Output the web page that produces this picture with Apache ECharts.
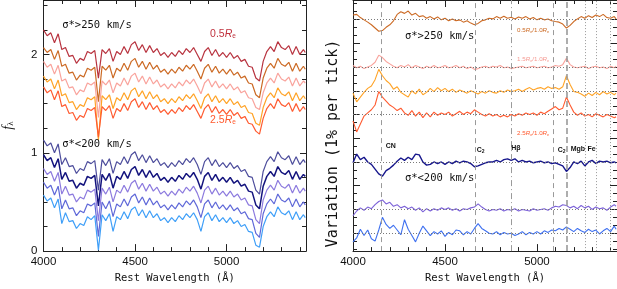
<!DOCTYPE html>
<html><head><meta charset="utf-8">
<script src="https://cdn.jsdelivr.net/npm/echarts@6/dist/echarts.min.js"></script>
<style>html,body{margin:0;padding:0;background:#fff}#c{width:617px;height:289px}</style>
</head><body><div id="c"></div>
<script>
// wavelength grid (Angstrom)
const wavelengths = [];
for (let w = 4000; w <= 5420; w += 20) wavelengths.push(w);
wavelengths.push(5430);

// ---- left panel: f_lambda, sigma*>250 km/s (0.5Re ... 2.5Re)
const hi05 = [2.25,2.19,2.22,2.12,2.21,2.05,2.07,1.98,1.99,1.91,
1.96,1.94,2.03,2.01,2.04,1.76,2.05,2.01,2.06,1.93,
2.03,2.00,2.08,2.01,2.10,2.13,2.04,2.10,2.02,2.09,
2.02,2.06,1.99,2.02,1.97,2.02,1.98,2.04,2.00,2.06,
2.02,2.07,2.00,1.93,2.03,2.07,1.99,2.05,1.98,2.02,
1.97,2.02,1.96,1.99,1.93,1.95,1.88,1.87,1.76,1.73,
1.93,2.03,2.08,2.03,2.13,2.07,2.05,2.09,2.00,2.08,
2.00,2.05,2.02];
const hi10 = [2.07,2.02,2.05,1.95,2.04,1.88,1.90,1.81,1.82,1.74,
1.79,1.77,1.86,1.84,1.87,1.52,1.88,1.84,1.89,1.76,
1.86,1.83,1.91,1.84,1.93,1.96,1.87,1.93,1.85,1.92,
1.85,1.89,1.82,1.85,1.80,1.85,1.81,1.87,1.83,1.89,
1.85,1.90,1.83,1.75,1.86,1.90,1.82,1.88,1.81,1.85,
1.80,1.85,1.79,1.82,1.76,1.78,1.71,1.70,1.59,1.56,
1.76,1.86,1.91,1.86,1.96,1.90,1.88,1.92,1.83,1.91,
1.83,1.88,1.85];
const hi15 = [1.93,1.87,1.90,1.80,1.89,1.73,1.75,1.66,1.67,1.59,
1.64,1.62,1.71,1.69,1.72,1.36,1.73,1.69,1.74,1.61,
1.71,1.68,1.76,1.69,1.78,1.81,1.72,1.78,1.70,1.77,
1.70,1.74,1.67,1.70,1.65,1.70,1.66,1.72,1.68,1.74,
1.70,1.75,1.68,1.60,1.71,1.75,1.67,1.73,1.66,1.70,
1.65,1.70,1.64,1.67,1.61,1.63,1.56,1.55,1.46,1.44,
1.61,1.71,1.76,1.71,1.81,1.75,1.73,1.77,1.68,1.76,
1.68,1.73,1.71];
const hi20 = [1.78,1.72,1.75,1.65,1.74,1.58,1.60,1.51,1.52,1.44,
1.49,1.47,1.56,1.54,1.57,1.13,1.58,1.54,1.59,1.45,
1.56,1.53,1.61,1.54,1.63,1.66,1.57,1.63,1.55,1.62,
1.55,1.59,1.52,1.55,1.50,1.55,1.51,1.57,1.53,1.59,
1.55,1.60,1.53,1.45,1.56,1.60,1.52,1.58,1.51,1.55,
1.50,1.55,1.49,1.52,1.46,1.48,1.41,1.40,1.30,1.28,
1.46,1.56,1.61,1.56,1.66,1.60,1.58,1.62,1.53,1.61,
1.53,1.58,1.55];
const hi25 = [1.67,1.61,1.64,1.54,1.63,1.47,1.49,1.40,1.41,1.33,
1.38,1.36,1.45,1.43,1.46,1.16,1.47,1.43,1.48,1.35,
1.45,1.42,1.50,1.43,1.52,1.55,1.46,1.52,1.44,1.51,
1.44,1.48,1.41,1.44,1.39,1.44,1.40,1.46,1.42,1.48,
1.44,1.49,1.42,1.35,1.45,1.49,1.41,1.47,1.40,1.44,
1.39,1.44,1.38,1.41,1.35,1.37,1.30,1.29,1.22,1.19,
1.35,1.45,1.50,1.45,1.55,1.49,1.47,1.51,1.42,1.50,
1.42,1.47,1.44];
// sigma*<200 km/s
const lo05 = [1.13,1.07,1.10,1.00,1.09,0.88,0.95,0.86,0.87,0.79,
0.84,0.82,0.91,0.89,0.92,0.62,0.93,0.87,0.94,0.79,
0.91,0.88,0.96,0.89,0.98,1.01,0.92,0.98,0.90,0.97,
0.90,0.94,0.87,0.90,0.85,0.90,0.86,0.92,0.88,0.94,
0.90,0.95,0.88,0.78,0.91,0.95,0.87,0.93,0.86,0.90,
0.85,0.90,0.84,0.87,0.81,0.83,0.76,0.75,0.62,0.58,
0.81,0.91,0.96,0.91,1.01,0.95,0.93,0.97,0.88,0.96,
0.88,0.93,0.90];
const lo10 = [0.98,0.92,0.95,0.85,0.94,0.73,0.80,0.71,0.72,0.64,
0.69,0.67,0.76,0.74,0.77,0.46,0.78,0.72,0.79,0.64,
0.76,0.73,0.81,0.74,0.83,0.86,0.77,0.83,0.75,0.82,
0.75,0.79,0.72,0.75,0.70,0.75,0.71,0.77,0.73,0.79,
0.75,0.80,0.73,0.63,0.76,0.80,0.72,0.78,0.71,0.75,
0.70,0.75,0.69,0.72,0.66,0.68,0.61,0.60,0.47,0.43,
0.66,0.76,0.81,0.76,0.86,0.80,0.78,0.82,0.73,0.81,
0.73,0.78,0.76];
const lo15 = [0.84,0.78,0.81,0.71,0.80,0.58,0.66,0.57,0.58,0.50,
0.55,0.53,0.62,0.60,0.63,0.31,0.64,0.58,0.65,0.50,
0.62,0.59,0.67,0.60,0.69,0.72,0.63,0.69,0.61,0.68,
0.61,0.65,0.58,0.61,0.56,0.61,0.57,0.63,0.59,0.65,
0.61,0.66,0.59,0.49,0.62,0.66,0.58,0.64,0.57,0.61,
0.56,0.61,0.55,0.58,0.52,0.54,0.47,0.46,0.32,0.28,
0.52,0.62,0.67,0.62,0.72,0.66,0.64,0.68,0.59,0.67,
0.59,0.64,0.61];
const lo20 = [0.70,0.64,0.67,0.57,0.66,0.43,0.52,0.43,0.44,0.36,
0.41,0.39,0.48,0.46,0.49,0.15,0.50,0.43,0.51,0.35,
0.48,0.45,0.53,0.46,0.55,0.58,0.49,0.55,0.47,0.54,
0.47,0.51,0.44,0.47,0.42,0.47,0.43,0.49,0.45,0.51,
0.47,0.52,0.45,0.34,0.48,0.52,0.44,0.50,0.43,0.47,
0.42,0.47,0.41,0.44,0.38,0.40,0.33,0.32,0.18,0.14,
0.38,0.48,0.53,0.48,0.58,0.52,0.50,0.54,0.45,0.53,
0.45,0.50,0.47];
const lo25 = [0.57,0.51,0.54,0.44,0.53,0.28,0.39,0.30,0.31,0.23,
0.28,0.26,0.35,0.32,0.36,0.01,0.37,0.31,0.38,0.20,
0.35,0.32,0.40,0.33,0.42,0.45,0.36,0.42,0.34,0.41,
0.34,0.38,0.31,0.34,0.29,0.34,0.30,0.36,0.32,0.38,
0.34,0.39,0.32,0.20,0.35,0.39,0.31,0.37,0.30,0.34,
0.29,0.34,0.28,0.31,0.25,0.27,0.20,0.19,0.06,0.04,
0.25,0.35,0.40,0.35,0.45,0.39,0.37,0.41,0.32,0.40,
0.32,0.37,0.34];

// ---- right panel: variation in % relative to 1.0Re
const varHi05 = [0.57,0.65,0.25,-0.04,-0.33,-0.66,-1.07,-1.48,-1.39,-0.98,
-0.66,-0.16,0.65,0.98,0.78,1.07,0.57,0.78,0.37,0.49,
0.16,0.37,0.08,0.33,-0.04,0.16,-0.16,0.08,-0.16,-0.04,
-0.33,-0.16,-0.45,-0.66,-0.49,-0.16,-0.04,0.16,0.08,0.37,
0.16,0.41,0.16,0.29,0.08,0.33,0.16,0.37,0.08,0.25,
-0.04,0.16,-0.04,0.08,-0.16,-0.25,-0.33,-0.57,-1.07,-0.74,
-0.25,0.08,0.37,0.16,0.49,0.25,0.57,0.37,0.65,0.25,
0.16,0.37,0.08];
const varHi15 = [0.2,-0.1,0.1,-0.2,0.0,0.2,0.6,1.5,1.2,0.7,
0.4,0.1,-0.1,0.2,0.0,0.3,-0.1,0.2,0.0,-0.2,
0.1,-0.1,0.2,-0.1,0.0,0.2,-0.1,0.0,0.2,-0.1,
0.1,-0.2,0.0,-0.3,-0.2,0.0,0.1,-0.1,0.1,0.0,
0.2,-0.1,0.0,-0.2,-0.1,0.0,0.1,-0.1,0.0,0.1,
-0.1,0.0,0.1,-0.1,0.0,0.2,0.1,0.3,1.1,0.3,
0.0,-0.1,0.0,0.1,-0.2,0.0,0.1,-0.1,0.0,-0.2,
0.1,-0.1,0.1];
const varHi20 = [-0.3,-1.4,-0.8,-0.2,0.3,0.6,1.4,2.7,1.9,1.3,
0.9,0.2,0.5,-0.2,-0.5,-0.8,0.0,-0.4,0.2,-0.5,
-0.2,0.3,-0.1,0.4,0.0,0.3,-0.1,0.2,-0.2,0.1,
-0.1,-0.3,0.0,-0.2,-0.4,-0.1,-0.3,0.0,-0.2,-0.3,
0.0,-0.2,0.1,-0.1,0.0,0.2,-0.1,0.2,0.4,0.1,
0.3,0.4,0.2,0.5,0.3,0.4,0.2,0.5,1.9,0.8,
-0.1,-0.2,-0.4,-0.7,-0.3,-0.6,-0.2,-0.5,-0.1,-0.4,
-0.2,-0.5,-0.3];
const varHi25 = [-0.8,-2.2,-1.2,-0.2,0.2,0.6,1.2,2.9,2.2,1.7,
1.2,0.9,0.5,0.8,0.2,-0.1,0.5,-0.2,0.3,-0.4,
0.2,-0.3,0.3,-0.1,0.2,0.0,0.3,-0.2,0.1,0.4,
0.0,0.3,0.1,0.6,0.3,0.0,-0.2,0.1,-0.2,0.0,
-0.3,-0.1,-0.3,0.0,-0.2,0.1,-0.1,0.2,0.0,0.2,
-0.1,0.3,0.1,0.4,0.7,1.0,0.6,0.8,2.2,1.2,
0.3,-0.1,0.2,-0.2,0.0,-0.3,0.1,-0.1,-0.3,0.0,
-0.2,-0.4,-0.3];
const varLoA = [-0.1,1.0,0.3,0.6,0.0,-0.3,-0.9,-1.5,-1.8,-1.1,
-0.8,-0.4,0.1,0.5,0.2,0.6,0.3,1.0,0.9,0.0,
-0.4,-0.3,0.0,-0.2,0.0,-0.3,0.0,-0.2,0.1,-0.1,
0.1,0.0,-0.2,-0.6,-0.5,-0.3,-0.1,0.0,0.0,0.2,
0.0,0.3,0.4,0.2,0.4,0.0,0.2,0.0,0.1,-0.1,
0.0,0.1,-0.1,0.0,-0.2,-0.1,-0.3,-0.5,-1.2,-0.7,
0.0,-0.2,0.1,-0.5,0.0,0.2,-0.2,0.1,0.0,0.1,
-0.1,0.0,-0.1];
const varLoB = [-0.8,-0.2,0.2,-0.1,0.3,0.1,0.6,1.0,1.2,0.7,
0.9,0.4,0.6,0.2,0.4,0.1,0.3,-0.1,0.2,-0.3,
0.1,-0.2,0.1,-0.1,0.2,0.0,0.2,-0.1,0.1,-0.2,
0.1,0.0,0.2,0.3,0.7,0.3,0.0,-0.2,0.0,-0.1,
0.1,-0.2,0.0,-0.1,0.1,-0.2,0.0,-0.1,-0.2,0.1,
-0.1,0.0,0.1,-0.1,0.2,0.4,0.3,0.6,0.5,0.2,
0.4,0.1,0.5,0.2,0.4,0.0,0.3,0.1,0.2,-0.1,
0.3,0.6,0.4];
const varLoC = [-1.1,-0.6,0.5,-0.3,0.4,-0.7,-1.0,0.4,2.0,1.1,
0.6,1.0,0.4,-0.2,1.7,0.5,-0.3,-1.1,0.0,0.9,
0.3,-0.3,0.2,-0.1,0.3,-0.4,0.1,-0.2,0.4,0.3,
-0.2,0.2,-0.1,0.6,1.2,0.6,0.3,0.0,-0.1,0.2,
-0.2,0.1,-0.1,0.0,-0.3,-0.1,0.2,-0.2,0.1,-0.1,
0.2,-0.1,0.3,0.1,0.4,0.3,0.6,0.4,0.8,0.5,
0.2,0.6,0.3,0.1,0.5,0.2,0.4,-0.1,0.3,0.6,
0.2,0.9,0.5];
// vertical display offsets of the ratio spectra (in % ticks)
const varOffsets = [27, 21, 18, 15, 9, 3, 0];

// feature lines (Angstrom)
const featureWaves = [4151, 4667, 4858, 5091, 5163, 5260, 5322, 5400];
const featureDash  = [[5,4],[5,4],[6,3,1,3],[5,4],[6,3],[1,2],[1,2],[1,2]];
const featureNames = ['CN','C2','Hβ','C2','Mgb','Fe'];
const featureLabelWaves = [4178, 4673, 4860, 5113, 5183, 5275];
const featureLabelY = [11.06, 10.5, 10.77, 10.5, 10.65, 10.65];

const leftSeries = [
  [hi05,'#b8333f'],[hi10,'#cc6a24'],[hi15,'#f9a39c'],[hi20,'#ffa326'],[hi25,'#ff5b30'],
  [lo05,'#4d4d9c'],[lo10,'#14147e'],[lo15,'#8c7ade'],[lo20,'#5f68d8'],[lo25,'#3f9ff8']
];
const rightSeries = [
  [varHi05,'#cc6a24'],[varHi15,'#f9a39c'],[varHi20,'#ffa326'],[varHi25,'#ff5b30'],
  [varLoA,'#16168c'],[varLoB,'#7c62d8'],[varLoC,'#3e70f0']
];

const AX = '#222';
const monoFont = 'DejaVu Sans Mono';
function xAxisDef(grid, pos, showLab, max) {
  return {
    type:'value', gridIndex:grid, position:pos, min:4000, max:max, interval:500,
    axisLine:{show:true, onZero:false, lineStyle:{color:AX, width:1}},
    axisTick:{show:true, inside:true, length:7, lineStyle:{color:AX}},
    minorTick:{show:true, splitNumber:5, length:4, lineStyle:{color:AX}},
    splitLine:{show:false},
    axisLabel:{show:showLab, color:'#111', fontSize:11.5, fontFamily:'Liberation Sans', margin:5,
      showMaxLabel:false, formatter:(v)=>String(v)},
    name: showLab ? 'Rest Wavelength (Å)' : '', nameLocation:'middle', nameGap:19,
    nameTextStyle:{fontFamily:monoFont, fontSize:10.5, color:'#111'}
  };
}
const yMinR = -2.263, yMaxR = 29.47;
const majorR = [0,3,6,9,12,15,18,21,24,27];
const minorR = [];
for (let v = -2; v <= 29; v++) minorR.push(v);

const option = {
  animation:false,
  backgroundColor:'#fff',
  grid:[
    {left:43, top:-2, width:263, height:258},
    {left:353, top:-2, width:264, height:258}
  ],
  xAxis:[
    xAxisDef(0,'bottom',true,5434),
    xAxisDef(0,'top',false,5434),
    xAxisDef(1,'bottom',true,5435),
    xAxisDef(1,'top',false,5435)
  ],
  yAxis:[
    {type:'value', gridIndex:0, position:'left', min:0, max:2.554, interval:1,
     axisLine:{show:true, lineStyle:{color:AX}},
     axisTick:{show:true, inside:true, length:6, lineStyle:{color:AX}},
     minorTick:{show:true, splitNumber:4, length:4, lineStyle:{color:AX}},
     splitLine:{show:false},
     axisLabel:{color:'#111', fontSize:11.5, fontFamily:'Liberation Sans', margin:6, showMaxLabel:false},
     name:'{f|f}{s|λ}', nameLocation:'middle', nameGap:28, nameRotate:90,
     nameTextStyle:{rich:{f:{fontFamily:'Liberation Serif', fontStyle:'italic', fontSize:14, color:'#111'},
                          s:{fontFamily:'Liberation Serif', fontSize:9, color:'#111', padding:[6,0,0,0]}}}},
    {type:'value', gridIndex:0, position:'right', min:0, max:2.554, interval:1,
     axisLine:{show:true, lineStyle:{color:AX}},
     axisTick:{show:true, inside:true, length:6, lineStyle:{color:AX}},
     minorTick:{show:true, splitNumber:4, length:4, lineStyle:{color:AX}},
     splitLine:{show:false}, axisLabel:{show:false}},
    {type:'value', gridIndex:1, position:'left', min:yMinR, max:yMaxR,
     axisLine:{show:true, lineStyle:{color:AX}},
     axisTick:{show:true, inside:true, length:7, customValues:majorR, lineStyle:{color:AX}},
     splitLine:{show:false}, axisLabel:{show:false, customValues:majorR},
     name:'Variation (1% per tick)', nameLocation:'middle', nameGap:12,
     nameTextStyle:{fontFamily:monoFont, fontSize:15, color:'#111', padding:[0,36,0,0]}},
    {type:'value', gridIndex:1, position:'left', min:yMinR, max:yMaxR,
     axisLine:{show:false},
     axisTick:{show:true, inside:true, length:4, customValues:minorR, lineStyle:{color:AX}},
     splitLine:{show:false}, axisLabel:{show:false, customValues:minorR}},
    {type:'value', gridIndex:1, position:'right', min:yMinR, max:yMaxR,
     axisLine:{show:true, lineStyle:{color:AX}},
     axisTick:{show:true, inside:true, length:7, customValues:majorR, lineStyle:{color:AX}},
     splitLine:{show:false}, axisLabel:{show:false, customValues:majorR}},
    {type:'value', gridIndex:1, position:'right', min:yMinR, max:yMaxR,
     axisLine:{show:false},
     axisTick:{show:true, inside:true, length:4, customValues:minorR, lineStyle:{color:AX}},
     splitLine:{show:false}, axisLabel:{show:false, customValues:minorR}}
  ],
  series:[]
};

leftSeries.forEach(([arr,col],k)=>{
  option.series.push({type:'line', xAxisIndex:0, yAxisIndex:0, showSymbol:false, symbol:'none',
    lineStyle:{color:col, width:(k===6?1.5:1.2)}, data:wavelengths.map((w,i)=>[w,arr[i]]), z:3});
});
rightSeries.forEach(([arr,col],k)=>{
  option.series.push({type:'line', xAxisIndex:2, yAxisIndex:2, showSymbol:false, symbol:'none',
    lineStyle:{color:col, width:(k===4?1.4:1.1)}, data:wavelengths.map((w,i)=>[w,arr[i]+varOffsets[k]]), z:3});
});
// reference lines for right panel
option.series.push({type:'line', xAxisIndex:2, yAxisIndex:2, data:[], silent:true,
  markLine:{silent:true, symbol:['none','none'], label:{show:false}, animation:false,
    data: varOffsets.map(o=>({yAxis:o, lineStyle:{color:'#7a7a7a', type:[1,2], width:1}}))
      .concat(featureWaves.map((w,i)=>({xAxis:w, lineStyle:{color:'#9a9a9a', type:featureDash[i], width:(i===4?1.6:1)}})))
  }, z:1});

const chart = echarts.init(document.getElementById('c'), null, {renderer:'canvas'});
chart.setOption(option);

// text annotations anchored in data coordinates
const L = (p)=>chart.convertToPixel({xAxisIndex:0, yAxisIndex:0}, p);
const R = (p)=>chart.convertToPixel({xAxisIndex:2, yAxisIndex:2}, p);
const g = [];
function txt(pt, text, style) {
  g.push({type:'text', x:pt[0], y:pt[1], z:100,
    style:Object.assign({text:text, verticalAlign:'middle', align:'left', fill:'#111'}, style)});
}
const ReRich = (c,fs)=>({n:{fill:c, fontSize:fs, fontFamily:'Liberation Sans'},
  i:{fill:c, fontSize:fs, fontStyle:'italic', fontFamily:'Liberation Sans'},
  s:{fill:c, fontSize:fs*0.62, fontFamily:'Liberation Sans', padding:[fs*0.45,0,0,0]}});
txt(L([4102,2.30]), 'σ*>250 km/s', {font:'10.5px "DejaVu Sans Mono"'});
txt(L([4102,1.09]), 'σ*<200 km/s', {font:'10.5px "DejaVu Sans Mono"'});
txt(L([4910,2.21]), '{n|0.5}{i|R}{s|e}', {rich:ReRich('#c0323e',10.5)});
txt(L([4910,1.33]), '{n|2.5}{i|R}{s|e}', {rich:ReRich('#ff5b30',10.5)});

txt(R([4282,24.9]), 'σ*>250 km/s', {font:'10.5px "DejaVu Sans Mono"'});
txt(R([4282,6.9]), 'σ*<200 km/s', {font:'10.5px "DejaVu Sans Mono"'});
txt(R([4892,25.66]), '{n|0.5}{i|R}{s|e}{n|/1.0}{i|R}{s|e}', {rich:ReRich('#cc6a24',6.2)});
txt(R([4892,21.93]), '{n|1.5}{i|R}{s|e}{n|/1.0}{i|R}{s|e}', {rich:ReRich('#f59a92',6.2)});
txt(R([4892,12.6]), '{n|2.5}{i|R}{s|e}{n|/1.0}{i|R}{s|e}', {rich:ReRich('#ff5b30',6.2)});
featureNames.forEach((n,i)=>{
  const t = (n === 'C2') ? '{b|C}{s|2}' : '{b|' + n + '}';
  txt(R([featureLabelWaves[i], featureLabelY[i]]), t, {
    rich:{b:{fontSize:7, fontWeight:'bold', fontFamily:'Liberation Sans', fill:'#111'},
          s:{fontSize:5, fontWeight:'bold', fontFamily:'Liberation Sans', fill:'#111', padding:[3,0,0,0]}}});
});
chart.setOption({graphic:g});
</script></body></html>
